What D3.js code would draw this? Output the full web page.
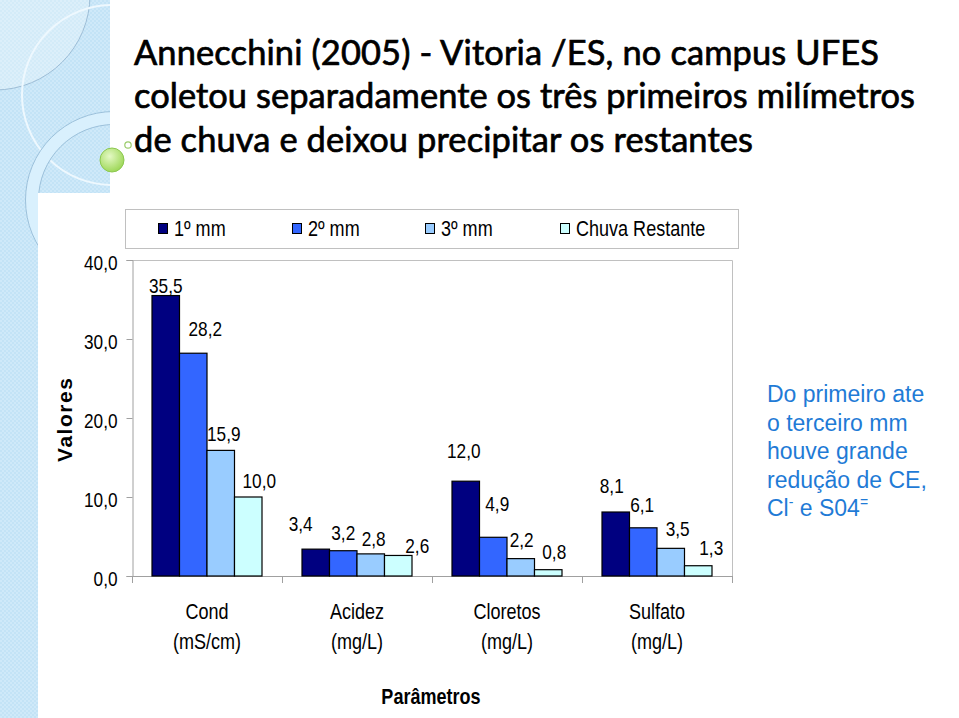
<!DOCTYPE html>
<html>
<head>
<meta charset="utf-8">
<script src="https://cdn.jsdelivr.net/npm/d3@7/dist/d3.min.js"></script>
<style>
  html, body { margin: 0; padding: 0; background: #ffffff; }
  svg { display: block; }
</style>
</head>
<body>
<svg id="chart" width="959" height="718"></svg>
<script>
// ---------------- DATA ----------------
const categories = ["Cond", "Acidez", "Cloretos", "Sulfato"];
const categoryUnits = ["(mS/cm)", "(mg/L)", "(mg/L)", "(mg/L)"];
const seriesNames = ["1º mm", "2º mm", "3º mm", "Chuva Restante"];
const values1 = [35.5, 3.4, 12.0, 8.1];
const values2 = [28.2, 3.2, 4.9, 6.1];
const values3 = [15.9, 2.8, 2.2, 3.5];
const values4 = [10.0, 2.6, 0.8, 1.3];
const yTickValues = [0, 10, 20, 30, 40];
const titleLines = [
  "Annecchini (2005) - Vitoria /ES, no campus UFES",
  "coletou separadamente os três primeiros milímetros",
  "de chuva e deixou precipitar os restantes"
];
const yAxisTitle = "Valores";
const xAxisTitle = "Parâmetros";

// ---------------- STYLE / LAYOUT ----------------
const seriesColors = ["#000080", "#3366ff", "#99ccff", "#ccffff"];
// manual nudges of the value labels [dx, dy] relative to bar top centre (series x category)
const labelNudges = [
  [[0, -10], [-15, -26], [-2, -31], [-4, -27]],
  [[12, -25], [0, -18], [4, -34], [-1, -23]],
  [[3, -17], [3, -15], [1, -19], [7, -20]],
  [[11, -17], [19, -10], [6, -18], [13, -18]]
];
const chartFont = "'Liberation Sans', Arial, sans-serif";
const SQ = 0.82; // horizontal squeeze to mimic a narrow face

// squeeze a selection of <text> horizontally while keeping its anchor point
function condense(sel) {
  sel.each(function () {
    const t = d3.select(this);
    const x = +(t.attr("x") || 0);
    t.attr("x", x / SQ);
    const prev = t.attr("transform") || "";
    t.attr("transform", prev + ` scale(${SQ},1)`);
  });
}

const seriesValues = [values1, values2, values3, values4];
const svg = d3.select("#chart");
const defs = svg.append("defs");

// ---------- background decoration ----------
const pat = defs.append("pattern").attr("id", "dots").attr("width", 4).attr("height", 4)
  .attr("patternUnits", "userSpaceOnUse");
pat.append("rect").attr("width", 4).attr("height", 4).attr("fill", "#c3e3f6");
pat.append("rect").attr("width", 2).attr("height", 2).attr("fill", "#cfe9f9");
pat.append("rect").attr("x", 2).attr("y", 2).attr("width", 2).attr("height", 2).attr("fill", "#cfe9f9");

const panelPath = "M0,0 L110,0 L110,193 L38,193 L38,718 L0,718 Z";
defs.append("clipPath").attr("id", "panelClip").append("path").attr("d", panelPath);
svg.append("path").attr("d", panelPath).attr("fill", "url(#dots)");
const deco = svg.append("g").attr("clip-path", "url(#panelClip)");
deco.append("circle").attr("cx", -5).attr("cy", -5).attr("r", 95)
  .attr("fill", "#ffffff").attr("fill-opacity", 0.28).attr("stroke", "#9dbdd6").attr("stroke-width", 1);
deco.append("circle").attr("cx", 112).attr("cy", 95).attr("r", 90)
  .attr("fill", "none").attr("stroke", "#eef8fe").attr("stroke-width", 2);
deco.append("circle").attr("cx", 114).attr("cy", 200).attr("r", 82)
  .attr("fill", "none").attr("stroke", "#d9f0fd").attr("stroke-width", 13);
deco.append("circle").attr("cx", 114).attr("cy", 200).attr("r", 88.5)
  .attr("fill", "none").attr("stroke", "#9cc0da").attr("stroke-width", 1);
deco.append("circle").attr("cx", 114).attr("cy", 200).attr("r", 75.5)
  .attr("fill", "none").attr("stroke", "#9cc0da").attr("stroke-width", 1);

const gg = defs.append("radialGradient").attr("id", "green").attr("cx", "40%").attr("cy", "35%").attr("r", "65%");
gg.append("stop").attr("offset", "0%").attr("stop-color", "#e4f9c4");
gg.append("stop").attr("offset", "100%").attr("stop-color", "#9fd85a");
svg.append("circle").attr("cx", 112).attr("cy", 160).attr("r", 12)
  .attr("fill", "url(#green)").attr("stroke", "#8cc850").attr("stroke-width", 1);
svg.append("circle").attr("cx", 128).attr("cy", 145).attr("r", 3.2)
  .attr("fill", "#ffffff").attr("stroke", "#9acb6a").attr("stroke-width", 1.2);

// ---------- title ----------
const titleFont = "Lato, 'Open Sans', sans-serif";
const titleX = 134, titleBase = [65, 108, 152], titleWidths = [745, 781, 619];
const probe = svg.append("text").attr("font-family", titleFont)
  .attr("font-size", 30).text(titleLines[0]);
const natural = probe.node().getComputedTextLength();
probe.remove();
const titleSize = 30 * (titleWidths[0] - 6) / natural;
svg.append("g").selectAll("text").data(titleLines).join("text")
  .attr("x", titleX).attr("y", (d, i) => titleBase[i])
  .attr("font-family", titleFont)
  .attr("font-size", titleSize)
  .attr("fill", "#000000")
  .attr("stroke", "#000000")
  .attr("stroke-width", 0.7)
  .attr("textLength", (d, i) => titleWidths[i])
  .attr("lengthAdjust", "spacing")
  .text(d => d);

// ---------- scales ----------
const plotLeft = 132, plotRight = 732, plotTop = 260, plotBottom = 576;
const x0 = d3.scaleBand().domain(categories).range([plotLeft, plotRight]);
const x1 = d3.scaleBand().domain(d3.range(seriesNames.length)).range([20, x0.bandwidth() - 20]);
const y = d3.scaleLinear().domain([0, 40]).range([plotBottom, plotTop]);

// plot area border (top & right)
svg.append("path")
  .attr("d", `M${plotLeft},${plotTop + 0.5} H${plotRight + 0.5} V${plotBottom}`)
  .attr("fill", "none").attr("stroke", "#c0c0c0").attr("stroke-width", 1);

// ---------- y axis ----------
const fmt = v => v.toFixed(1).replace(".", ",");
const yAxis = svg.append("g").attr("transform", `translate(${plotLeft + 0.5},0)`)
  .call(d3.axisLeft(y).tickValues(yTickValues).tickFormat(fmt).tickSize(6).tickPadding(9));
yAxis.select(".domain").attr("stroke", "#a0a0a0");
yAxis.selectAll(".tick line").attr("stroke", "#a0a0a0");
yAxis.selectAll(".tick text").attr("font-family", chartFont).attr("font-size", 21)
  .attr("fill", "#000").attr("dy", "0.45em").call(condense);

// ---------- x axis ----------
svg.append("line").attr("x1", plotLeft).attr("x2", plotRight)
  .attr("y1", plotBottom + 0.5).attr("y2", plotBottom + 0.5).attr("stroke", "#a0a0a0");
const boundaries = categories.map(c => x0(c)).concat([x0.range()[1]]);
svg.append("g").selectAll("line").data(boundaries).join("line")
  .attr("x1", d => d + 0.5).attr("x2", d => d + 0.5)
  .attr("y1", plotBottom).attr("y2", plotBottom + 7)
  .attr("stroke", "#a0a0a0");
const catG = svg.append("g").selectAll("g").data(categories).join("g")
  .attr("transform", c => `translate(${x0(c) + x0.bandwidth() / 2},0)`);
catG.append("text").attr("y", 611).attr("dy", "0.35em").attr("text-anchor", "middle")
  .attr("font-family", chartFont).attr("font-size", 22).text(c => c).call(condense);
catG.append("text").attr("y", 641).attr("dy", "0.35em").attr("text-anchor", "middle")
  .attr("font-family", chartFont).attr("font-size", 22).text((c, i) => categoryUnits[i]).call(condense);

// axis titles
svg.append("text").attr("x", 431).attr("y", 704).attr("text-anchor", "middle")
  .attr("font-family", chartFont).attr("font-size", 22).attr("font-weight", "bold")
  .text(xAxisTitle).call(condense);
svg.append("text").attr("transform", "translate(72,420) rotate(-90)")
  .attr("text-anchor", "middle").attr("font-family", chartFont).attr("font-size", 21)
  .attr("font-weight", "bold").attr("textLength", 84).attr("lengthAdjust", "spacing")
  .text(yAxisTitle);

// ---------- bars ----------
const seriesG = svg.append("g").selectAll("g").data(seriesValues).join("g")
  .attr("fill", (d, i) => seriesColors[i]);
seriesG.each(function (vals, si) {
  const g = d3.select(this);
  g.selectAll("rect").data(vals).join("rect")
    .attr("x", (v, ci) => x0(categories[ci]) + x1(si))
    .attr("y", v => y(v))
    .attr("width", x1.bandwidth())
    .attr("height", v => y(0) - y(v))
    .attr("stroke", "#000").attr("stroke-width", 1.2);
  g.selectAll("text").data(vals).join("text")
    .attr("x", (v, ci) => x0(categories[ci]) + x1(si) + x1.bandwidth() / 2 + labelNudges[si][ci][0])
    .attr("y", (v, ci) => y(v) + labelNudges[si][ci][1])
    .attr("dy", "0.36em")
    .attr("text-anchor", "middle")
    .attr("fill", "#000")
    .attr("font-family", chartFont).attr("font-size", 21)
    .text(v => fmt(v))
    .call(condense);
});

// ---------- legend ----------
const legend = svg.append("g");
legend.append("rect").attr("x", 125.5).attr("y", 209.5).attr("width", 613).attr("height", 39)
  .attr("fill", "#fff").attr("stroke", "#c0c0c0");
const legendX = [158, 292, 425, 560];
const li = legend.selectAll("g").data(seriesNames).join("g")
  .attr("transform", (d, i) => `translate(${legendX[i]},228)`);
li.append("rect").attr("x", 0.5).attr("y", -4.5).attr("width", 9).attr("height", 10)
  .attr("fill", (d, i) => seriesColors[i]).attr("stroke", "#000");
li.append("text").attr("x", 16).attr("dy", "0.36em")
  .attr("font-family", chartFont).attr("font-size", 22).text(d => d).call(condense);

// ---------- annotation ----------
const ann = svg.append("text").attr("font-family", chartFont)
  .attr("font-size", 23).attr("fill", "#1f7bd6");
const annLines = ["Do primeiro ate", "o terceiro mm", "houve grande", "redução de CE,"];
annLines.forEach((t, i) => ann.append("tspan").attr("x", 767).attr("y", 402 + i * 28.5).text(t));
const last = ann.append("tspan").attr("x", 767).attr("y", 402 + 4 * 28.5);
last.text("Cl");
ann.append("tspan").attr("dy", -9).attr("font-size", 14).text("-");
ann.append("tspan").attr("dy", 9).text(" e S04");
ann.append("tspan").attr("dy", -9).attr("font-size", 14).text("=");
</script>
</body>
</html>
